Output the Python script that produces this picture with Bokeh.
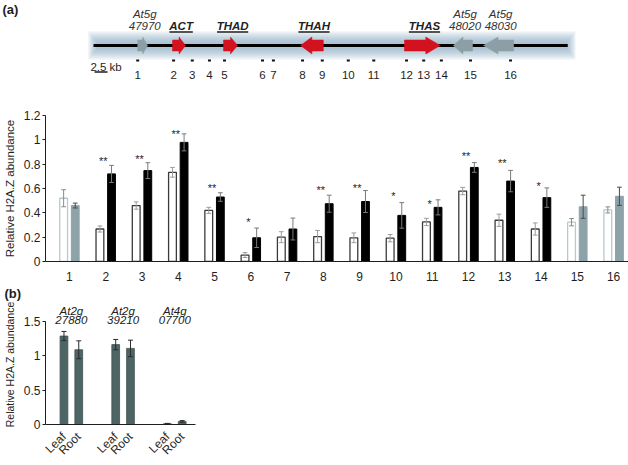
import math
from bokeh.plotting import figure
from bokeh.models import Range1d, FixedTicker, Label
from bokeh.layouts import column
from bokeh.embed import file_html
from bokeh.resources import INLINE
from bokeh.core.properties import value

FONT = "Liberation Sans"
INK = "#1e1e1e"

# ---------------- (a) locus diagram data (kb) ----------------
track_start, track_end = 0.0, 91.2
gene_names = ["At5g47970", "ACT", "THAD", "THAH", "THAS", "At5g48020", "At5g48030"]
gene_start = [8.5, 15.2, 25.0, 39.8, 59.8, 69.2, 75.0]
gene_end = [10.4, 17.7, 27.7, 44.2, 66.7, 72.9, 80.8]
gene_strand = [1, 1, 1, -1, 1, -1, -1]
gene_in_cluster = [False, True, True, True, True, False, False]
region_labels = ["1", "2", "3", "4", "5", "6", "7", "8", "9", "10", "11", "12", "13", "14", "15", "16"]
region_pos = [8.5, 15.4, 19.0, 22.3, 25.2, 32.5, 34.6, 40.2, 44.0, 49.0, 53.9, 60.2, 63.5, 66.9, 72.5, 80.2]
scale_bar_kb = 2.5

# ---------------- (a) ChIP values ----------------
region_in_cluster = [False] + [True] * 13 + [False, False]
leaf_a = [0.52, 0.267, 0.46, 0.733, 0.42, 0.053, 0.20, 0.205, 0.195, 0.192, 0.325, 0.579, 0.339, 0.267, 0.323, 0.424]
leaf_a_err = [0.07, 0.025, 0.03, 0.04, 0.025, 0.02, 0.045, 0.05, 0.04, 0.03, 0.03, 0.03, 0.05, 0.05, 0.03, 0.025]
root_a = [0.46, 0.72, 0.747, 0.979, 0.53, 0.195, 0.267, 0.475, 0.493, 0.379, 0.445, 0.773, 0.661, 0.525, 0.45, 0.536]
root_a_err = [0.02, 0.07, 0.065, 0.07, 0.035, 0.08, 0.09, 0.07, 0.09, 0.105, 0.062, 0.04, 0.088, 0.08, 0.095, 0.075]
stars = ["", "**", "**", "**", "**", "*", "", "**", "**", "*", "*", "**", "**", "*", "", ""]
star_y = [0, 0.845, 0.867, 1.067, 0.627, 0.347, 0, 0.608, 0.627, 0.56, 0.493, 0.885, 0.827, 0.64, 0, 0]
y_ticks_a = [0, 0.2, 0.4, 0.6, 0.8, 1.0, 1.2]

# ---------------- (b) controls ----------------
genes_b = ["At2g27880", "At2g39210", "At4g07700"]
tissues_b = ["Leaf", "Root"]
leaf_b = [1.29, 1.165, 0.012]
leaf_b_err = [0.067, 0.075, 0.004]
root_b = [1.09, 1.11, 0.045]
root_b_err = [0.13, 0.12, 0.012]
y_ticks_b = [0, 0.5, 1, 1.5]

# ================= figure 1 : locus diagram =================
W = 628
PX_PER_KB = 5.2
TRACK_X0 = 93
d = figure(width=W, height=84, x_range=Range1d(-TRACK_X0 / PX_PER_KB, (W - TRACK_X0) / PX_PER_KB),
           y_range=Range1d(-39, 45), toolbar_location=None, output_backend="svg",
           min_border=0, x_axis_type=None, y_axis_type=None, outline_line_color=None,
           frame_align=False)
d.grid.visible = False

g0, g1 = track_start - 1.0, track_end + 1.5
for h, inset in [(28, 0.0), (24, 0.3), (20, 0.6), (16, 0.9), (12, 1.2), (8, 1.5)]:
    d.rect(x=(g0 + g1) / 2, y=0, width=(g1 - g0) - 2 * inset, height=h, height_units="screen",
           fill_color="#7fa3ba", fill_alpha=0.15, line_color=None)
d.line(x=[track_start, track_end], y=[0, 0], line_width=3, line_color="black")

xs, ys, cols = [], [], []
for s, e, st, cl in zip(gene_start, gene_end, gene_strand, gene_in_cluster):
    hd = min(0.5 * (e - s), 2.8)
    if st > 0:
        xs.append([s, e - hd, e - hd, e, e - hd, e - hd, s])
    else:
        xs.append([e, s + hd, s + hd, s, s + hd, s + hd, e])
    ys.append([-5.5, -5.5, -8.5, 0, 8.5, 5.5, 5.5])
    cols.append("#d2121f" if cl else "#8d9fa6")
d.patches(xs, ys, fill_color=cols, line_color=cols, line_width=0.5)

LAB_SHIFT = 0.4
for name, s, e, cl in zip(gene_names, gene_start, gene_end, gene_in_cluster):
    cx = (s + e) / 2 + LAB_SHIFT
    if cl:
        d.text(x=[cx], y=[19.5], text=[name], text_font=value(FONT), text_font_size="11.5px",
               text_font_style="bold italic", text_align="center", text_baseline="middle", text_color=INK)
        half = len(name) * 7.8 / PX_PER_KB / 2
        d.segment(x0=[cx - half], y0=[13.5], x1=[cx + half], y1=[13.5], line_width=1.3, line_color=INK)
    else:
        d.text(x=[cx, cx], y=[31.5, 20], text=[name[:4], name[4:]], text_font=value(FONT),
               text_font_size="11.5px", text_font_style="italic", text_align="center",
               text_baseline="middle", text_color="#333333")

d.rect(x=region_pos, y=[-15] * len(region_pos), width=3, height=2, width_units="screen",
       height_units="screen", fill_color="#111111", line_color=None)
d.text(x=region_pos, y=[-29] * len(region_pos), text=region_labels, text_font=value(FONT),
       text_font_size="11.5px", text_align="center", text_baseline="middle", text_color=INK)

d.text(x=[-0.6], y=[-21], text=[f"{scale_bar_kb:g} kb"], text_font=value(FONT), text_font_size="11.5px",
       text_align="left", text_baseline="middle", text_color=INK)
d.segment(x0=[0.2], y0=[-26.5], x1=[0.2 + scale_bar_kb], y1=[-26.5], line_width=1.6, line_color=INK)
d.add_layout(Label(x=2, y=75, x_units="screen", y_units="screen", text="(a)", text_font=FONT,
                   text_font_size="13px", text_font_style="bold", text_baseline="middle", text_color=INK))

# ================= figure 2 : chart (a) =================
xa = list(range(1, len(region_labels) + 1))
OFF, BW = 0.16, 0.215
pa = figure(width=W, height=199, x_range=Range1d(0.34, 16.41), y_range=Range1d(0, 1.2),
            toolbar_location=None, output_backend="svg", min_border_left=43, min_border_right=0,
            min_border_top=31, min_border_bottom=18, outline_line_color=None, frame_align=False)
pa.grid.visible = False

xl = [i - OFF for i in xa]
xr = [i + OFF for i in xa]
leaf_line = ["#3a3a3a" if c else "#b9c8cd" for c in region_in_cluster]
root_fill = ["#000000" if c else "#8ea2a9" for c in region_in_cluster]
leaf_wh = ["#9c9c9c" if c else "#8a8a8a" for c in region_in_cluster]
root_wh = ["#7a7a7a" if c else "#4a4a4a" for c in region_in_cluster]

pa.vbar(x=xl, top=leaf_a, width=BW, fill_color="white", line_color=leaf_line, line_width=1.3)
pa.vbar(x=xr, top=root_a, width=BW, fill_color=root_fill, line_color=root_fill, line_width=1)

CAP = 0.065
for xx, v, e, c in [(xl, leaf_a, leaf_a_err, leaf_wh), (xr, root_a, root_a_err, root_wh)]:
    lo = [a - b for a, b in zip(v, e)]
    hi = [a + b for a, b in zip(v, e)]
    pa.segment(x0=xx, y0=lo, x1=xx, y1=hi, line_color=c, line_width=1)
    pa.segment(x0=[q - CAP for q in xx], y0=lo, x1=[q + CAP for q in xx], y1=lo, line_color=c, line_width=1)
    pa.segment(x0=[q - CAP for q in xx], y0=hi, x1=[q + CAP for q in xx], y1=hi, line_color=c, line_width=1)

sx = [i - 0.07 for i, s in zip(xa, stars) if s]
sy = [y for y, s in zip(star_y, stars) if s]
st = [s for s in stars if s]
pa.text(x=sx, y=sy, text=st, text_font=value(FONT), text_font_size="11px", text_align="center",
        text_baseline="middle", y_offset=2.5, text_color=INK)

pa.xaxis.ticker = FixedTicker(ticks=xa)
pa.xaxis.major_label_overrides = {i: lab for i, lab in zip(xa, region_labels)}
pa.yaxis.ticker = FixedTicker(ticks=y_ticks_a)
pa.yaxis.major_label_overrides = {0: "0", 1: "1"}
pa.yaxis.axis_label = "Relative H2A.Z abundance"

# ================= figure 3 : chart (b) =================
GSTEP, DX = 7, 1
gx = [GSTEP * i for i in range(len(genes_b))]
pb = figure(width=200, height=182, x_range=Range1d(-3.5, 16.8), y_range=Range1d(0, 1.75),
            toolbar_location=None, output_backend="svg", min_border_left=43, min_border_right=5,
            min_border_top=21, min_border_bottom=30, outline_line_color=None, frame_align=False)
pb.grid.visible = False
bl = [g - DX for g in gx]
br = [g + DX for g in gx]
BAR_B = "#4d6565"
pb.vbar(x=bl, top=leaf_b, width=1.05, fill_color=BAR_B, line_color="#3e5353", line_width=0.8)
pb.vbar(x=br, top=root_b, width=1.05, fill_color=BAR_B, line_color="#3e5353", line_width=0.8)
CAPB = 0.33
for xx, v, e in [(bl, leaf_b, leaf_b_err), (br, root_b, root_b_err)]:
    lo = [a - b for a, b in zip(v, e)]
    hi = [a + b for a, b in zip(v, e)]
    pb.segment(x0=xx, y0=lo, x1=xx, y1=hi, line_color="#2b2b2b", line_width=1)
    pb.segment(x0=[q - CAPB for q in xx], y0=hi, x1=[q + CAPB for q in xx], y1=hi, line_color="#2b2b2b", line_width=1)
    pb.segment(x0=[q - CAPB for q in xx], y0=lo, x1=[q + CAPB for q in xx], y1=lo, line_color="#2b2b2b", line_width=1)

pb.text(x=gx + gx, y=[1.655] * len(gx) + [1.52] * len(gx),
        text=[g[:4] for g in genes_b] + [g[4:] for g in genes_b], text_font=value(FONT),
        text_font_size="11.5px", text_font_style="italic", text_align="center", text_baseline="middle",
        text_color="#222222")

tick_b, lab_b = [], []
for g in gx:
    tick_b += [g - DX, g + DX]
    lab_b += tissues_b
pb.xaxis.ticker = FixedTicker(ticks=tick_b)
pb.xaxis.major_label_overrides = {t: l for t, l in zip(tick_b, lab_b)}
pb.xaxis.major_label_orientation = math.pi / 4
pb.yaxis.ticker = FixedTicker(ticks=y_ticks_b)
pb.yaxis.major_label_overrides = {0: "0", 1: "1"}
pb.yaxis.bounds = (0, 1.5)
pb.yaxis.axis_label = "Relative H2A.Z abundance"

pb.title.text = "(b)"
pb.title.align = "left"
pb.title.offset = -41
pb.title.standoff = 3
pb.title.vertical_align = "top"
pb.title.text_font = FONT
pb.title.text_font_size = "13px"
pb.title.text_font_style = "bold"
pb.title.text_color = INK

for p in (pa, pb):
    for ax in p.axis:
        ax.axis_line_color = INK
        ax.axis_line_width = 1
        ax.major_label_text_font = FONT
        ax.major_label_text_font_size = "12px"
        ax.major_label_text_color = INK
        ax.minor_tick_line_color = None
    p.xaxis.major_tick_line_color = None
    p.xaxis.major_label_standoff = 4
    p.yaxis.major_tick_out = 3
    p.yaxis.major_tick_in = 0
    p.yaxis.major_tick_line_color = INK
    p.yaxis.major_label_standoff = 2
    p.yaxis.axis_label_text_font = FONT
    p.yaxis.axis_label_text_font_style = "normal"
    p.yaxis.axis_label_text_color = INK
    p.yaxis.axis_label_standoff = 5
pa.yaxis.axis_label_text_font_size = "11.5px"
pb.yaxis.axis_label_text_font_size = "10.5px"

layout = column(d, pa, pb, spacing=0,
                styles={"position": "absolute", "left": "0px", "top": "0px"})
open("out.html", "w").write(file_html(layout, INLINE))
